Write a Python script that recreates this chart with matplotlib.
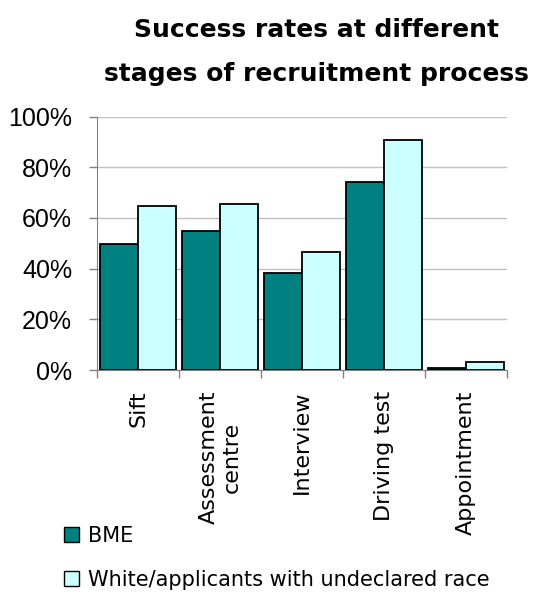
import numpy as np
import matplotlib.pyplot as plt
from matplotlib.patches import Patch
from matplotlib.ticker import PercentFormatter

# data
stages = ['Sift', 'Assessment\ncentre', 'Interview', 'Driving test', 'Appointment']
bme = [49.6, 55.0, 38.2, 74.1, 0.9]
white = [64.9, 65.5, 46.6, 90.8, 3.0]
series_names = ['BME', 'White/applicants with undeclared race']

teal = '#008080'
pale = '#ccffff'

fig = plt.figure(figsize=(5.37, 5.92), dpi=100)
ax = fig.add_axes([0.181, 0.375, 0.763, 0.428])

x = np.arange(len(stages))
w = 0.46
ax.bar(x - w / 2, bme, width=w, color=teal, edgecolor='black', linewidth=1.3, zorder=3)
ax.bar(x + w / 2, white, width=w, color=pale, edgecolor='black', linewidth=1.3, zorder=3)

ax.set_xlim(-0.5, len(stages) - 0.5)
ax.set_ylim(0, 100)
ax.set_yticks(np.arange(0, 101, 20))
ax.yaxis.set_major_formatter(PercentFormatter(decimals=0))
ax.grid(axis='y', color='#c0c0c0', linewidth=1, zorder=0)
for lab in ax.get_yticklabels():
    lab.set_fontfamily('Liberation Sans')

# ticks at category boundaries, labels centred on categories
ax.set_xticks(np.arange(-0.5, len(stages), 1))
ax.set_xticklabels([])
ax.set_xticks(x, minor=True)
ax.set_xticklabels(stages, minor=True, rotation=90, fontsize=16, va='top', ha='center',
                   multialignment='center')
ax.tick_params(axis='x', which='minor', length=0, pad=15)
ax.tick_params(axis='x', which='major', length=6, color='#808080', width=1)
ax.tick_params(axis='y', length=6, color='#808080', width=1, labelsize=18, pad=12)

for side in ['top', 'right']:
    ax.spines[side].set_visible(False)
ax.spines['left'].set_color('#808080')
ax.spines['bottom'].set_color('#808080')

fig.text(0.59, 1 - 37 / 592, 'Success rates at different', ha='center', va='baseline',
         fontsize=18, fontweight='bold')
fig.text(0.59, 1 - 81 / 592, 'stages of recruitment process', ha='center', va='baseline',
         fontsize=18, fontweight='bold')

handles = [Patch(facecolor=teal, edgecolor='black'), Patch(facecolor=pale, edgecolor='black')]
fig.legend(handles, series_names, loc='upper left', bbox_to_anchor=(64 / 537, 1 - 526 / 592),
           frameon=False, fontsize=15, handlelength=0.7, handleheight=0.7,
           handletextpad=0.45, labelspacing=1.15, borderaxespad=0, borderpad=0)

fig.savefig('out.png', dpi=100)
